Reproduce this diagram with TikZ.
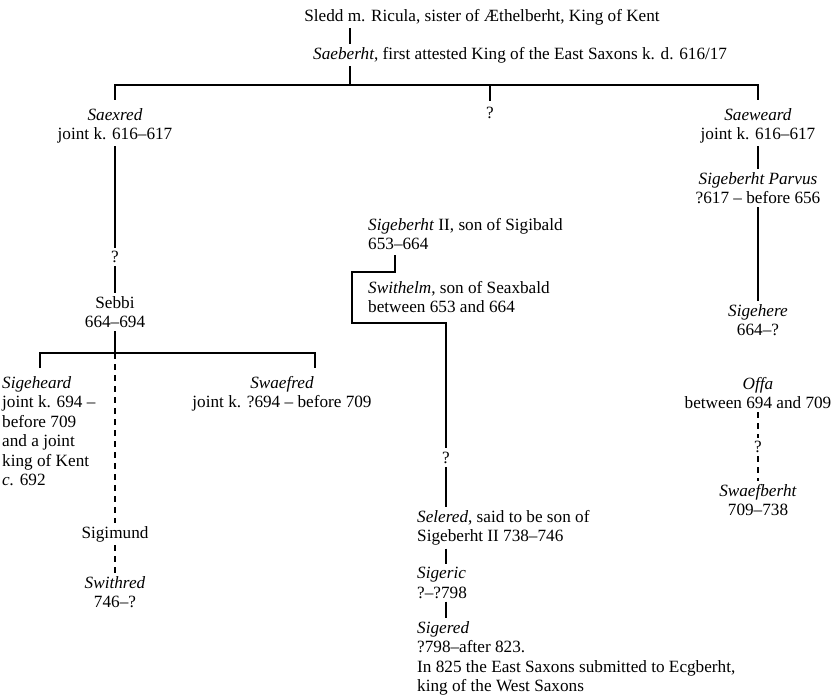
\documentclass[tikz,border=0pt]{standalone}
\usepackage{fontspec}
\setmainfont{Liberation Serif}

\tikzset{
  dashline/.style={dash pattern=on 6pt off 5pt}
}

\begin{document}
\begin{tikzpicture}[x=1pt,y=-1pt]
\useasboundingbox (0,0) rectangle (840,695);

\begin{scope}[every node/.style={inner sep=0pt,align=center,anchor=north,
                                 font=\fontsize{17.2}{19.5}\selectfont}]
    \node (sledd) at (482,9) {Sledd m. Ricula, sister of Æthelberht, King of Kent};
    \node[anchor=north west] (saeberht) at (313,47) {\textit{Saeberht}, first attested King of the East Saxons k. d. 616/17};

    % left branch
    \node (saexred) at (115,108) {\textit{Saexred}\\joint k. 616–617};
    \node (q1) at (115,251) {?};
    \node (sebbi) at (115,296) {Sebbi\\664–694};
    \node[anchor=north west,align=left] (sigeheard) at (2,376) {\textit{Sigeheard}\\joint k. 694 –\\before 709\\and a joint\\king of Kent\\\textit{c.} 692};
    \node (swaefred) at (282,376) {\textit{Swaefred}\\joint k. ?694 – before 709};
    \node (sigimund) at (115,526) {Sigimund};
    \node (swithred) at (115,576) {\textit{Swithred}\\746–?};

    % middle branch
    \node (qmid) at (490,107) {?};
    \node[anchor=north west,align=left] (sigeb) at (368,218) {\textit{Sigeberht} II, son of Sigibald\\653–664};
    \node[anchor=north west,align=left] (swithelm) at (368,281) {\textit{Swithelm}, son of Seaxbald\\between 653 and 664};
    \node (q2) at (446,452) {?};
    \node[anchor=north west,align=left] (selered) at (417,510) {\textit{Selered}, said to be son of\\Sigeberht II 738–746};
    \node[anchor=north west,align=left] (sigeric) at (417,567) {\textit{Sigeric}\\?–?798};
    \node[anchor=north west,align=left] (sigered) at (417,621) {\textit{Sigered}\\?798–after 823.\\In 825 the East Saxons submitted to Ecgberht,\\king of the West Saxons};

    % right branch
    \node (saeweard) at (758,108) {\textit{Saeweard}\\joint k. 616–617};
    \node (sparvus) at (758,172) {\textit{Sigeberht Parvus}\\?617 – before 656};
    \node (sigehere) at (758,304) {\textit{Sigehere}\\664–?};
    \node (offa) at (758,377) {\textit{Offa}\\between 694 and 709};
    \node (q3) at (758,441) {?};
    \node (swaefb) at (758,484) {\textit{Swaefberht}\\709–738};
\end{scope}

\coordinate (tickA) at (350,0);
\coordinate (bar) at (0,85);
\coordinate (sbar) at (0,353);
\coordinate (sgx) at (40,368);
\coordinate (swx) at (315,368);
\coordinate (brA) at (395,272);
\coordinate (brL) at (352,272);
\coordinate (brB) at (352,323);
\coordinate (brR) at (446,323);

\begin{scope}[line width=1.1pt,
              every edge/.style={draw,line width=1.1pt,shorten <=3pt,shorten >=3pt}]
    \path (sledd.south -| tickA) edge (saeberht.north -| tickA);
    \path (saeberht.south -| tickA) edge[shorten >=0pt] (tickA |- bar);

    \draw ([yshift=8pt]saexred.north) -- (saexred.north |- bar) -- (saeweard.north |- bar) -- ([yshift=8pt]saeweard.north);
    \path (qmid.north |- bar) edge[shorten <=0pt,shorten >=6pt] (qmid.north);

    \path (saexred.south) edge (q1.north);
    \path (q1.south) edge (sebbi.north);
    \path (sebbi.south) edge[shorten >=0pt] (sebbi.south |- sbar);
    \draw (sgx) -- (sgx |- sbar) -- (swx |- sbar) -- (swx);
    \path (sebbi.south |- sbar) edge[dashline,shorten <=0pt] (sigimund.north);
    \path (sigimund.south) edge[dashline] (swithred.north);

    \draw[shorten <=5pt] (sigeb.south -| brA) -- (brA) -- (brL) -- (brB) -- (brR) -- ([yshift=4pt]q2.north);
    \path (q2.south) edge (q2 |- selered.north);
    \path (q2 |- selered.south) edge (q2 |- sigeric.north);
    \path (q2 |- sigeric.south) edge (q2 |- sigered.north);

    \path (saeweard.south) edge (sparvus.north);
    \path (sparvus.south) edge (sigehere.north);
    \path (offa.south) edge[dashline] (q3.north);
    \path (q3.south) edge[dashline] (swaefb.north);
\end{scope}
\end{tikzpicture}
\end{document}
